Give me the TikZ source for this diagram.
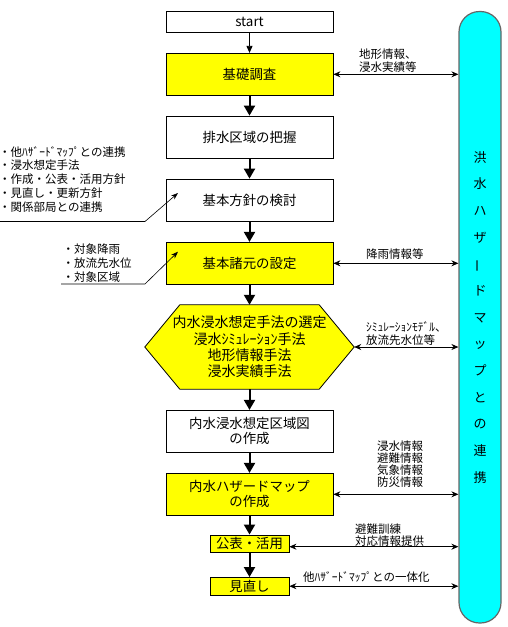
\documentclass[tikz,border=0pt]{standalone}
\usepackage{fontspec}
\setmainfont{Noto Sans CJK JP}
\usetikzlibrary{arrows.meta, backgrounds}
\definecolor{hzyellow}{RGB}{255,255,0}
\definecolor{hzcyan}{RGB}{0,255,255}

\begin{document}
\begin{tikzpicture}[x=1pt, y=-1pt,
        box/.style={rectangle, draw, line width=0.8pt, minimum width=167pt, minimum height=42pt, align=center, inner sep=0pt, font=\fontsize{13.4}{15}\selectfont},
        smallbox/.style={box, minimum width=79pt, minimum height=17.5pt},
        flow/.style={-{Triangle[width=11pt,length=10pt]}, line width=2pt},
        link/.style={{Stealth[width=6pt,length=7pt]}-{Stealth[width=6pt,length=7pt]}, line width=0.8pt},
        note/.style={-{Stealth[width=5pt,length=7pt]}, line width=0.6pt},
        info/.style={anchor=west, align=left, inner sep=0pt, font=\fontsize{11.5}{13}\selectfont}
    ]
        \useasboundingbox (0,0) rectangle (508,627);

        % Main flow
        \node[box, minimum height=21pt] (start) at (249.5,21.7) {start};
        \node[box, fill=hzyellow] (kiso) at (249.5,74.3) {基礎調査};
        \node[box] (haisui) at (249.5,137) {排水区域の把握};
        \node[box] (houshin) at (249.5,200) {基本方針の検討};
        \node[box, fill=hzyellow] (shogen) at (249.5,263.3) {基本諸元の設定};
        \node[rectangle, minimum width=209pt, minimum height=84pt, align=center, inner sep=0pt,
              font=\fontsize{14}{16.3}\selectfont] (hex) at (249.5,347)
              {内水浸水想定手法の選定\\浸水ｼﾐｭﾚｰｼｮﾝ手法\\地形情報手法\\浸水実績手法};
        \begin{scope}[on background layer]
            \draw[fill=hzyellow, line width=0.8pt] (hex.west) -- ([xshift=35pt]hex.north west) -- ([xshift=-35pt]hex.north east)
                -- (hex.east) -- ([xshift=-35pt]hex.south east) -- ([xshift=35pt]hex.south west) -- cycle;
        \end{scope}
        \node[box] (kuiki) at (249.5,431.3) {内水浸水想定区域図\\の作成};
        \node[box, fill=hzyellow] (hazard) at (249.5,494.3) {内水ハザードマップ\\の作成};
        \node[smallbox, fill=hzyellow] (kohyo) at (249.5,543.7) {公表・活用};
        \node[smallbox, fill=hzyellow] (minaoshi) at (249.5,586.2) {見直し};

        % Side bar
        \node[rectangle, rounded corners=20.5pt, draw=black!60, line width=1.2pt, fill=hzcyan,
              minimum width=42pt, minimum height=611.5pt, align=center, inner sep=0pt,
              font=\fontsize{13}{26.67}\selectfont] (bar) at (480,317.25)
              {洪\\水\\ハ\\ザ\\\rotatebox[origin=c]{90}{ー}\\ド\\マ\\ッ\\プ\\と\\の\\連\\携};

        % Arrows
        \draw[-{Triangle[width=6pt,length=7pt]}, line width=0.8pt] (start) -- (kiso);
        \draw[flow] (kiso) -- (haisui);
        \draw[flow] (haisui) -- (houshin);
        \draw[flow] (houshin) -- (shogen);
        \draw[flow] (shogen) -- (hex);
        \draw[flow] (hex) -- (kuiki);
        \draw[flow] (kuiki) -- (hazard);
        \draw[flow] (hazard) -- (kohyo);
        \draw[flow] (kohyo) -- (minaoshi);

        \draw[link] (kiso.east) -- (kiso.east -| bar.west);
        \draw[link] (shogen.east) -- (shogen.east -| bar.west);
        \draw[link] (hex.east) -- (hex.east -| bar.west);
        \draw[link] (hazard.east) -- (hazard.east -| bar.west);
        \draw[link] ([yshift=-3pt]kohyo.east) -- ([yshift=-3pt]kohyo.east -| bar.west);
        \draw[link] (minaoshi.east) -- (minaoshi.east -| bar.west);

        % Link labels
        \node[info] (lkiso) at (359,60.5) {地形情報、\\浸水実績等};
        \node[info] (lshogen) at (366,254) {降雨情報等};
        \node[info] (lhex) at (366,333.5) {ｼﾐｭﾚｰｼｮﾝﾓﾃﾞﾙ、\\放流先水位等};
        \node[info, font=\fontsize{11.5}{12.1}\selectfont] (lhazard) at (377,464.2) {浸水情報\\避難情報\\気象情報\\防災情報};
        \node[info, font=\fontsize{11.5}{11.7}\selectfont] (lkohyo) at (355,534.8) {避難訓練\\対応情報提供};
        \node[info] (lminaoshi) at (303,576.7) {他ﾊｻﾞｰﾄﾞﾏｯﾌﾟとの一体化};

        % Left notes
        \node[info, font=\fontsize{11.5}{13.75}\selectfont] (notea) at (-1,179.2)
            {・他ﾊｻﾞｰﾄﾞﾏｯﾌﾟとの連携\\・浸水想定手法\\・作成・公表・活用方針\\・見直し・更新方針\\・関係部局との連携};
        \node[info, font=\fontsize{11.5}{13.8}\selectfont] (noteb) at (62.5,263)
            {・対象降雨\\・放流先水位\\・対象区域};
        \coordinate (na1) at (0,221.5);
        \coordinate (na2) at (145,221.5);
        \coordinate (na3) at (178,193);
        \coordinate (nb1) at (61,284);
        \coordinate (nb2) at (145,284);
        \coordinate (nb3) at (178,251.7);
        \draw[note] (na1) -- (na2) -- (na3);
        \draw[note] (nb1) -- (nb2) -- (nb3);
    \end{tikzpicture}
\end{document}
